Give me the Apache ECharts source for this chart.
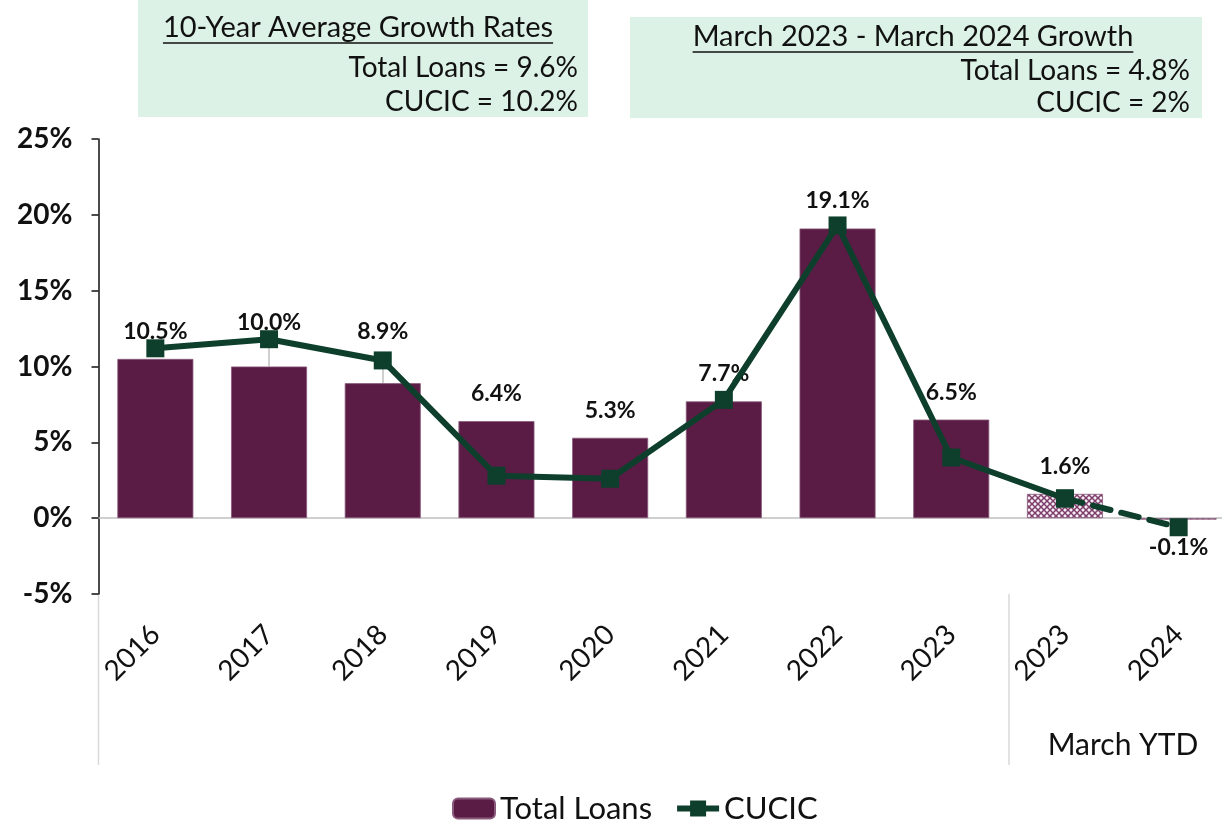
<!DOCTYPE html>
<html>
<head>
<meta charset="utf-8">
<script src="https://cdn.jsdelivr.net/npm/echarts@6/dist/echarts.min.js"></script>
<style>
  html, body { margin: 0; padding: 0; background: #fff; }
  #chart { width: 1222px; height: 821px; }
</style>
</head>
<body>
<div id="chart"></div>
<script>
// 数据
const categories = ['2016', '2017', '2018', '2019', '2020', '2021', '2022', '2023', '2023', '2024'];
const totalLoans = [10.5, 10.0, 8.9, 6.4, 5.3, 7.7, 19.1, 6.5, 1.6, -0.1];
const cucic = [11.2, 11.8, 10.4, 2.8, 2.6, 7.8, 19.3, 4.0, 1.3, -0.6];
const ytdStart = 8;          // 从这里开始是 March YTD
const leaderIdx = [1, 2];    // 有引导线的标签
const yTicks = [-5, 0, 5, 10, 15, 20, 25];

const avgBox = ['10-Year Average Growth Rates', 'Total Loans = 9.6%', 'CUCIC = 10.2%'];
const marchBox = ['March 2023 - March 2024 Growth', 'Total Loans = 4.8%', 'CUCIC = 2%'];

// 标签额外上移（仅样式）
const labelLift = [0, -16, -24, 0, 0, 0, 0, 0, 0, 0];

const MAROON = '#5a1c44';
const GREEN = '#0e3f2c';
const FONT = 'Lato, "Noto Sans", sans-serif';
const BOX_FONT = '28px ' + FONT;
const TITLE_FONT = '29px ' + FONT;

// 斜网格填充
function makeHatch() {
    const c = document.createElement('canvas');
    c.width = 6; c.height = 6;
    const ctx = c.getContext('2d');
    ctx.fillStyle = '#f7eef4';
    ctx.fillRect(0, 0, 6, 6);
    ctx.strokeStyle = '#7d3d6b';
    ctx.lineWidth = 1.5;
    ctx.beginPath();
    ctx.moveTo(0, 0); ctx.lineTo(6, 6);
    ctx.moveTo(6, 0); ctx.lineTo(0, 6);
    ctx.stroke();
    return c;
}
const hatch = { image: makeHatch(), repeat: 'repeat' };

function textWidth(text, font) {
    const ctx = document.createElement('canvas').getContext('2d');
    ctx.font = font;
    return ctx.measureText(text).width;
}

const barData = totalLoans.map((v, i) => ({
    value: v,
    itemStyle: i >= ytdStart ? { color: hatch } : undefined,
    label: {
        position: v < 0 ? 'bottom' : 'top',
        offset: [0, labelLift[i]]
    }
}));

const solidLine = cucic.map((v, i) => (i <= ytdStart ? v : '-'));
const dashLine = cucic.map((v, i) => (i >= ytdStart ? v : '-'));

const chart = echarts.init(document.getElementById('chart'));

function boxGraphic(x, y, w, h, lines, titleCx, rightX, ys) {
    const tw = textWidth(lines[0], TITLE_FONT);
    return [
        { type: 'rect', shape: { x: x, y: y, width: w, height: h }, style: { fill: '#ddf2e7' }, z: 0 },
        { type: 'text', x: titleCx, y: ys[0], style: { text: lines[0], font: TITLE_FONT, fill: '#111', align: 'center', verticalAlign: 'middle' } },
        { type: 'line', shape: { x1: titleCx - tw / 2, y1: ys[0] + 15, x2: titleCx + tw / 2, y2: ys[0] + 15 }, style: { stroke: '#111', lineWidth: 1.5 } },
        { type: 'text', x: rightX, y: ys[1], style: { text: lines[1], font: BOX_FONT, fill: '#111', align: 'right', verticalAlign: 'middle' } },
        { type: 'text', x: rightX, y: ys[2], style: { text: lines[2], font: BOX_FONT, fill: '#111', align: 'right', verticalAlign: 'middle' } }
    ];
}

const option = {
    animation: false,
    textStyle: { fontFamily: FONT },
    grid: { left: 98.5, width: 1137, top: 139, bottom: 227, containLabel: false, outerBoundsMode: 'none' },
    legend: {
        data: [
            { name: 'Total Loans' },
            { name: 'CUCIC', lineStyle: { width: 6, color: GREEN } }
        ],
        top: 788,
        left: 447,
        itemWidth: 42,
        itemHeight: 20,
        itemGap: 22,
        textStyle: { fontSize: 31, color: '#111', fontFamily: FONT }
    },
    xAxis: {
        type: 'category',
        data: categories,
        axisLine: { show: false, onZero: false },
        axisTick: { show: false },
        axisLabel: {
            rotate: 45,
            fontSize: 28,
            color: '#111',
            margin: 36,
            interval: 0
        }
    },
    yAxis: {
        type: 'value',
        min: -5,
        max: 25,
        interval: 5,
        axisLine: { show: true, lineStyle: { color: '#111', width: 1.5 } },
        axisTick: { show: true, inside: false, length: 7, lineStyle: { color: '#111', width: 1.5 } },
        splitLine: { show: false },
        axisLabel: {
            fontSize: 28,
            fontWeight: 'bold',
            color: '#111',
            margin: 26,
            formatter: function (v) { return yTicks.indexOf(v) >= 0 ? v + '%' : ''; }
        }
    },
    series: [
        {
            name: 'Total Loans',
            type: 'bar',
            data: barData,
            barWidth: 76,
            itemStyle: { color: MAROON, borderColor: '#8a5a7c', borderWidth: 0.8 },
            label: {
                show: true,
                distance: 16,
                fontSize: 23,
                fontWeight: 'bold',
                color: '#111',
                fontFamily: FONT,
                formatter: function (p) { return p.value.toFixed(1) + '%'; }
            },
            markLine: {
                silent: true,
                symbol: 'none',
                label: { show: false },
                data: [[{ coord: [0, 0], x: 98.5 }, { coord: [9, 0], x: 1222 }]]
                    .concat(leaderIdx.map(i => [{ coord: [i, totalLoans[i]] }, { coord: [i, cucic[i]] }])),
                lineStyle: { color: '#bfbfbf', width: 1.5, type: 'solid' },
                z: 1
            },
            z: 2
        },
        {
            name: 'CUCIC',
            type: 'line',
            data: solidLine,
            symbol: 'rect',
            symbolSize: 18,
            lineStyle: { color: GREEN, width: 6 },
            itemStyle: { color: GREEN },
            z: 5
        },
        {
            name: 'CUCIC YTD',
            type: 'line',
            data: dashLine,
            symbol: 'rect',
            symbolSize: 18,
            lineStyle: { color: GREEN, width: 6, type: [18, 11], cap: 'round' },
            itemStyle: { color: GREEN },
            z: 5
        }
    ],
    graphic: [].concat(
        boxGraphic(138, 0, 450, 117, avgBox, 358, 578, [28, 68, 102]),
        boxGraphic(630, 17, 572, 101, marchBox, 913, 1190, [37, 71, 103]),
        [
            { type: 'line', shape: { x1: 98.5, y1: 594, x2: 98.5, y2: 765 }, style: { stroke: '#d9d9d9', lineWidth: 1.5 } },
            { type: 'line', shape: { x1: 1009, y1: 594, x2: 1009, y2: 765 }, style: { stroke: '#d9d9d9', lineWidth: 1.5 } },
            { type: 'text', x: 1123, y: 745, style: { text: 'March YTD', font: '30px ' + FONT, fill: '#111', align: 'center', verticalAlign: 'middle' } }
        ]
    )
};

chart.setOption(option);
window.addEventListener('resize', () => chart.resize());
</script>
</body>
</html>
